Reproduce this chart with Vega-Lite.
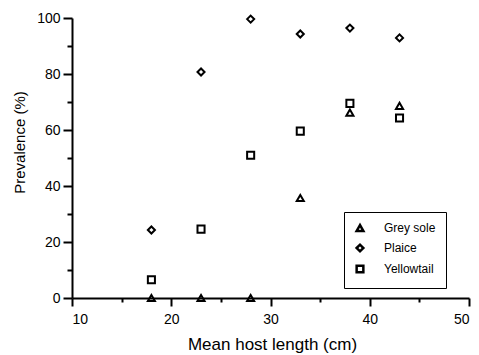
{
  "$schema": "https://vega.github.io/schema/vega-lite/v6.json",
  "width": 397,
  "height": 280,
  "autosize": {"type": "none"},
  "padding": {"left": 72, "top": 18, "right": 10, "bottom": 57},
  "background": "white",
  "config": {
    "view": {"stroke": null},
    "font": "Liberation Sans",
    "axis": {"grid": false, "domainColor": "black", "domainWidth": 2, "tickColor": "black", "tickWidth": 2, "labelColor": "black", "titleColor": "black", "labelFont": "Liberation Sans", "titleFont": "Liberation Sans", "titleFontWeight": "normal"}
  },
  "data": {"values": [
    {"length": 18, "prev": 0, "species": "Grey sole"},
    {"length": 23, "prev": 0, "species": "Grey sole"},
    {"length": 28, "prev": 0, "species": "Grey sole"},
    {"length": 33, "prev": 35.7, "species": "Grey sole"},
    {"length": 38, "prev": 66.2, "species": "Grey sole"},
    {"length": 43, "prev": 68.6, "species": "Grey sole"},
    {"length": 18, "prev": 24.3, "species": "Plaice"},
    {"length": 23, "prev": 80.7, "species": "Plaice"},
    {"length": 28, "prev": 99.6, "species": "Plaice"},
    {"length": 33, "prev": 94.3, "species": "Plaice"},
    {"length": 38, "prev": 96.4, "species": "Plaice"},
    {"length": 43, "prev": 92.9, "species": "Plaice"},
    {"length": 18, "prev": 6.5, "species": "Yellowtail"},
    {"length": 23, "prev": 24.6, "species": "Yellowtail"},
    {"length": 28, "prev": 51, "species": "Yellowtail"},
    {"length": 33, "prev": 59.6, "species": "Yellowtail"},
    {"length": 38, "prev": 69.5, "species": "Yellowtail"},
    {"length": 43, "prev": 64.3, "species": "Yellowtail"}
  ]},
  "layer": [
    {
      "mark": {"type": "point", "filled": false, "color": "black", "strokeWidth": 2, "opacity": 1},
      "encoding": {
        "x": {"field": "length", "type": "quantitative", "scale": {"domain": [10, 50], "nice": false, "zero": false},
          "axis": {"orient": "bottom", "values": [10, 20, 30, 40, 50], "tickSize": 8, "labelFontSize": 14, "labelPadding": 6, "title": "Mean host length (cm)", "titleFontSize": 17, "titleBaseline": "alphabetic", "titleX": 200, "titleY": 51}},
        "y": {"field": "prev", "type": "quantitative", "scale": {"domain": [0, 100], "nice": false},
          "axis": {"orient": "left", "values": [0, 20, 40, 60, 80, 100], "tickSize": 9, "labelFontSize": 14, "labelPadding": 3, "title": "Prevalence (%)", "titleFontSize": 15, "titleBaseline": "alphabetic", "titleX": -48, "titleY": 124}},
        "shape": {"field": "species", "type": "nominal",
          "scale": {"domain": ["Grey sole", "Plaice", "Yellowtail"], "range": ["triangle-up", "diamond", "square"]},
          "legend": {"title": null, "orient": "none", "legendX": 272, "legendY": 194, "strokeColor": "black", "padding": 10, "labelFontSize": 12, "labelColor": "black", "symbolStrokeColor": "black", "symbolStrokeWidth": 2.5, "symbolSize": 45, "labelOffset": 18, "rowPadding": 3, "fillColor": "white",
            "encode": {"legend": {"update": {"strokeWidth": {"value": 2}}}}}},
        "size": {"value": 50}
      }
    },
    {
      "mark": {"type": "point", "opacity": 0},
      "encoding": {
        "x": {"field": "length", "type": "quantitative", "scale": {"domain": [10, 50], "nice": false, "zero": false},
          "axis": {"orient": "bottom", "values": [15, 25, 35, 45], "tickSize": 4, "labels": false, "domain": false, "title": null}},
        "y": {"field": "prev", "type": "quantitative", "scale": {"domain": [0, 100], "nice": false},
          "axis": {"orient": "left", "values": [10, 30, 50, 70, 90], "tickSize": 5, "labels": false, "domain": false, "title": null}}
      }
    }
  ],
  "resolve": {"axis": {"x": "independent", "y": "independent"}}
}
